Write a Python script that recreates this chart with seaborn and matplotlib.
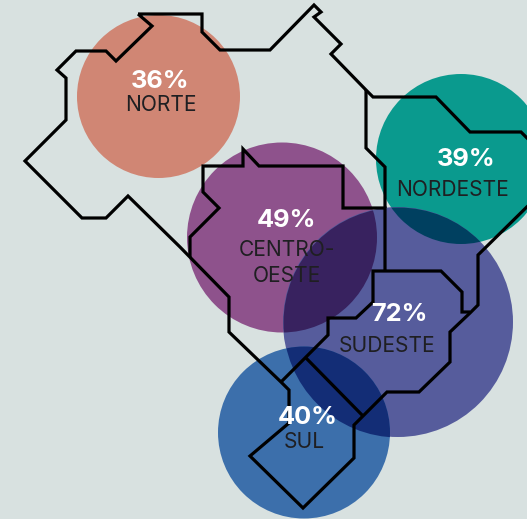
import matplotlib
matplotlib.use("Agg")
import matplotlib.pyplot as plt
from matplotlib.patches import Circle
import pandas as pd
import seaborn as sns

# regioes e valores
regioes = ["NORTE", "NORDESTE", "CENTRO-OESTE", "SUDESTE", "SUL"]
rotulos = ["NORTE", "NORDESTE", "CENTRO-\nOESTE", "SUDESTE", "SUL"]
valores = ["36%", "39%", "49%", "72%", "40%"]

# centro e raio das bolhas, em pixels da imagem
bolha_x = [158.5, 461, 282, 398, 304]
bolha_y = [96.5, 159, 237.5, 322, 432.5]
bolha_r = [81.5, 85, 95, 115, 86]

cores = ["#D08674", "#0A9A8E", "#8E528C", "#565C9C", "#3C6FAB"]
fundo = "#D8E1E0"

# onde a bolha do sudeste cruza as outras
cruzamentos = {"NORDESTE": "#004060", "CENTRO-OESTE": "#38225F", "SUL": "#132D76"}

# contorno do mapa
contorno_x = [138, 202, 202, 220, 270, 314, 321, 314, 341, 331, 366, 373, 436, 470, 521, 540,
              540, 478, 478, 470, 450, 450, 419, 387, 354, 354, 303, 250, 289, 289, 281,
              229, 229, 180, 128, 106, 82, 25, 66, 66, 57, 76, 106, 116, 152, 138]
contorno_y = [14, 14, 32, 50, 50, 5, 12, 17, 44, 54, 90, 97, 97, 132, 132, 151,
              194, 255, 305, 313, 332, 362, 392, 392, 425, 458, 508, 456, 423, 390, 382,
              332, 297, 247, 196, 218, 218, 161, 120, 78, 70, 51, 51, 61, 26, 14]

# divisas internas
divisas = [
    ([190, 190, 219, 203, 203, 243, 243, 259, 343, 343, 385, 385],
     [257, 237, 208, 192, 166, 166, 149, 166, 166, 208, 208, 271]),
    ([366, 366, 385, 385], [90, 148, 167, 208]),
    ([470, 462, 462, 441, 373, 373, 356, 328, 328, 281],
     [312, 312, 292, 271, 271, 302, 318, 318, 335, 382]),
    ([306, 363], [358, 416]),
]

W, H = 527, 519
fig = plt.figure(figsize=(W / 100, H / 100), dpi=100, facecolor=fundo)
ax = fig.add_axes([0, 0, 1, 1])
ax.set_facecolor(fundo)

df = pd.DataFrame({"regiao": regioes, "x": bolha_x, "y": bolha_y, "r": bolha_r})
df["area"] = (2 * df["r"] * 72 / 100) ** 2

sns.scatterplot(data=df, x="x", y="y", hue="regiao", size="regiao",
                palette=dict(zip(regioes, cores)), sizes=dict(zip(regioes, df["area"])),
                linewidth=0, alpha=1, legend=False, ax=ax, zorder=1)

ax.set_xlim(0, W)
ax.set_ylim(H, 0)
ax.axis("off")

# a bolha do sudeste de novo, cortada por cada vizinha, para escurecer o cruzamento
sudeste = df[df["regiao"] == "SUDESTE"]
for nome, cor in cruzamentos.items():
    viz = df[df["regiao"] == nome].iloc[0]
    antes = len(ax.collections)
    sns.scatterplot(data=sudeste, x="x", y="y", color=cor, s=sudeste["area"].iloc[0],
                    linewidth=0, legend=False, ax=ax, zorder=2)
    corte = Circle((viz["x"], viz["y"]), viz["r"], transform=ax.transData)
    ax.collections[antes].set_clip_path(corte)

linha = dict(color="black", lw=2.3, sort=False, estimator=None, ax=ax, zorder=3,
             solid_joinstyle="miter", solid_capstyle="butt")
sns.lineplot(x=contorno_x, y=contorno_y, **linha)
for xs, ys in divisas:
    sns.lineplot(x=xs, y=ys, **linha)

ax.set_xlim(0, W)
ax.set_ylim(H, 0)
ax.set_xlabel("")
ax.set_ylabel("")

# posicoes dos textos
valor_pos = [(160.5, 81.5), (466.5, 159.5), (286.5, 220.5), (399.5, 314.5), (308, 417.5)]
rotulo_pos = [(160.5, 105), (452.5, 190), (286.5, 263), (387.5, 346), (304.5, 442.5)]

for txt, (x, y) in zip(valores, valor_pos):
    ax.text(x, y, txt, color="white", fontsize=18.3, fontweight="bold", family="Inter",
            ha="center", va="center", zorder=5)
for txt, (x, y) in zip(rotulos, rotulo_pos):
    ax.text(x, y, txt, color="#1F1F22", fontsize=15.1, family="Inter",
            ha="center", va="center", linespacing=1.38, zorder=5)

fig.savefig("out.png", dpi=100, facecolor=fundo)
